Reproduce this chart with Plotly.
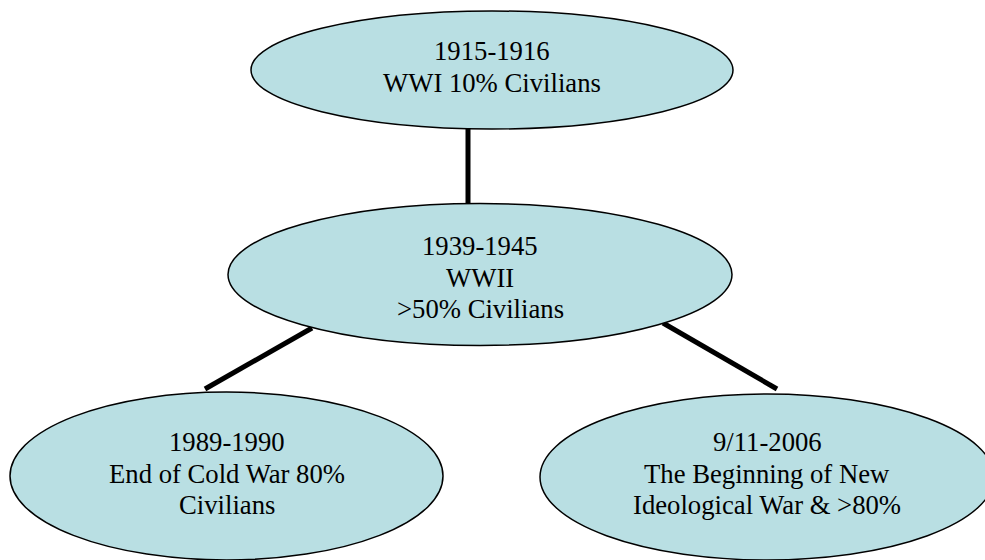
import plotly.graph_objects as go

# ---- data ----
node_titles = ["1915-1916", "1939-1945", "1989-1990", "9/11-2006"]
node_lines = [
    ["WWI 10% Civilians"],
    ["WWII", ">50% Civilians"],
    ["End of Cold War 80%", "Civilians"],
    ["The Beginning of New", "Ideological War & >80%"],
]
edges = [(0, 1), (1, 2), (1, 3)]

# ---- geometry (layout, pixels; y downward) ----
centers_x = [492, 480, 226.5, 767]
centers_y = [70, 274.5, 476, 477]
radii_x = [241, 252, 216.5, 227]
radii_y = [59, 71, 84, 83]
text_top = [51, 246, 442, 442]   # centre of first text line
line_gap = 31.5
edge_paths = [((468, 129), (468, 204)),
              ((312, 328), (205, 389)),
              ((663, 323), (777, 389))]

FILL = "#b9dfe3"
FONT = "Liberation Serif"

fig = go.Figure()
shapes = []
for (p0, p1) in edge_paths:
    shapes.append(dict(type="line", xref="x", yref="y",
                       x0=p0[0], y0=p0[1], x1=p1[0], y1=p1[1],
                       line=dict(color="black", width=5), layer="below"))
for cx, cy, rx, ry in zip(centers_x, centers_y, radii_x, radii_y):
    shapes.append(dict(type="circle", xref="x", yref="y",
                       x0=cx - rx, x1=cx + rx, y0=cy - ry, y1=cy + ry,
                       fillcolor=FILL, line=dict(color="black", width=1.5),
                       layer="below"))

annotations = []
for i, title in enumerate(node_titles):
    lines = [title] + node_lines[i]
    for k, t in enumerate(lines):
        annotations.append(dict(x=centers_x[i], y=text_top[i] + k * line_gap,
                                xref="x", yref="y", text=t, showarrow=False,
                                xanchor="center", yanchor="middle",
                                font=dict(family=FONT, size=26.7, color="black")))

# invisible trace to anchor axes
fig.add_trace(go.Scatter(x=[0, 985], y=[0, 560], mode="markers",
                         marker=dict(opacity=0), hoverinfo="skip",
                         showlegend=False))

W, H = 985, 560
fig.update_layout(
    width=W, height=H,
    margin=dict(l=0, r=0, t=0, b=0),
    paper_bgcolor="white", plot_bgcolor="white",
    shapes=shapes, annotations=annotations,
    xaxis=dict(range=[0, W], visible=False, fixedrange=True),
    yaxis=dict(range=[H, 0], visible=False, fixedrange=True),
    showlegend=False,
)
fig.write_html(
    "out.html",
    config={"displayModeBar": False},
    post_script="document.body.style.margin='0';"
                "document.documentElement.style.overflow='hidden';",
)
